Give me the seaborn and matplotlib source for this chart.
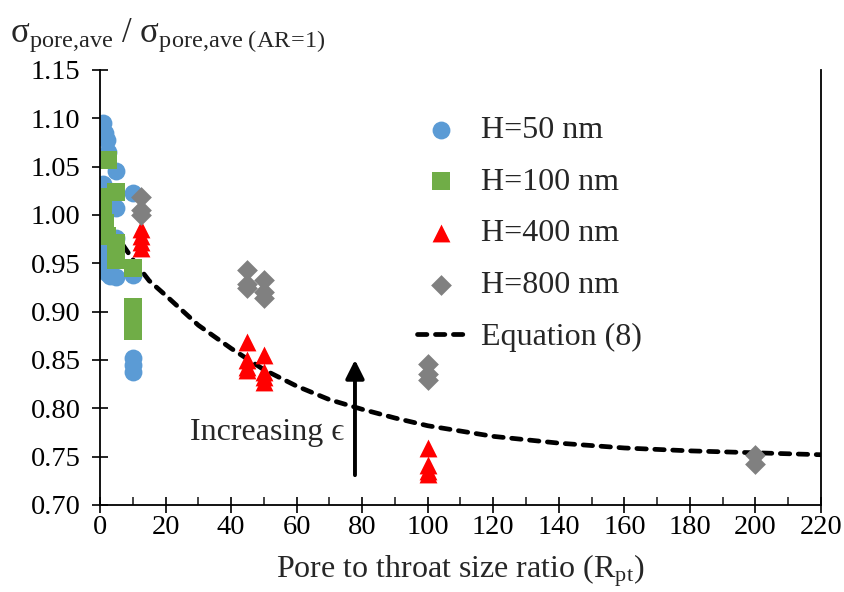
import matplotlib
matplotlib.use("Agg")
import matplotlib.pyplot as plt
from matplotlib.ticker import MultipleLocator, FormatStrFormatter
import seaborn as sns

# H = 50 nm (blue circles)
h50_x = [1, 1.5, 2, 2.5, 5, 1, 10, 5, 1, 5, 1, 1.5, 2, 3, 5, 10, 10, 10, 10]
h50_y = [1.095, 1.085, 1.078, 1.065, 1.046, 1.032, 1.023, 1.007, 0.963, 0.976,
         0.950, 0.945, 0.940, 0.937, 0.936, 0.938, 0.852, 0.845, 0.838]

# H = 100 nm (green squares)
h100_x = [1, 2.5, 5, 1, 1, 1.5, 2, 5, 5, 5, 10, 10, 10, 10]
h100_y = [1.057, 1.057, 1.024, 1.019, 1.005, 0.992, 0.978, 0.971, 0.961, 0.953,
          0.945, 0.905, 0.893, 0.880]

# H = 400 nm (red triangles)
h400_x = [12.5, 12.5, 12.5, 12.5, 45, 45, 45, 45, 50, 50, 50, 50, 100, 100, 100, 100]
h400_y = [0.985, 0.978, 0.972, 0.966, 0.869, 0.850, 0.843, 0.840,
          0.855, 0.838, 0.832, 0.827, 0.759, 0.741, 0.735, 0.732]

# H = 800 nm (gray diamonds)
h800_x = [12.5, 12.5, 12.5, 45, 45, 45, 50, 50, 50, 100, 100, 100, 200, 200]
h800_y = [1.019, 1.005, 1.000, 0.943, 0.929, 0.924, 0.933, 0.920, 0.914,
          0.846, 0.836, 0.829, 0.752, 0.742]

# Equation (8)
eq_x = [1, 5, 10, 15, 20, 30, 40, 50, 60, 70, 80, 90, 100, 120, 140, 160, 180, 200, 220]
eq_y = [1.000, 0.979, 0.954, 0.932, 0.917, 0.886, 0.862, 0.840, 0.823, 0.809,
        0.799, 0.790, 0.782, 0.771, 0.764, 0.759, 0.756, 0.754, 0.752]

x_ticks = list(range(0, 221, 20))
y_ticks = [0.70, 0.75, 0.80, 0.85, 0.90, 0.95, 1.00, 1.05, 1.10, 1.15]

sns.set_style("ticks")
plt.rcParams["font.family"] = ["Liberation Serif", "DejaVu Serif"]
plt.rcParams["mathtext.fontset"] = "custom"
plt.rcParams["mathtext.rm"] = "Liberation Serif"
plt.rcParams["mathtext.it"] = "Liberation Serif:italic"

fig = plt.figure(figsize=(8.44, 5.92), dpi=100)
ax = fig.add_axes([100 / 844, 1 - 505 / 592, 721 / 844, 435 / 592])

# dashed model curve under the markers
sns.lineplot(x=eq_x, y=eq_y, ax=ax, color="black", linewidth=3.4,
             label="Equation (8)", zorder=1)
line = ax.lines[-1]
line.set_linestyle((0, (2.0, 1.8)))
line.set_dash_capstyle("round")

sns.scatterplot(x=h50_x, y=h50_y, ax=ax, color="#5B9BD5", marker="o", s=165,
                linewidth=0, label="H=50 nm", zorder=2)
sns.scatterplot(x=h100_x, y=h100_y, ax=ax, color="#70AD47", marker="s", s=150,
                linewidth=0, label="H=100 nm", zorder=2)
sns.scatterplot(x=h400_x, y=h400_y, ax=ax, color="#FF0000", marker="^", s=165,
                linewidth=0, label="H=400 nm", zorder=2)
sns.scatterplot(x=h800_x, y=h800_y, ax=ax, color="#808080", marker="D", s=112,
                linewidth=0, label="H=800 nm", zorder=2)

ax.annotate("", xy=(77.8, 0.853), xytext=(77.8, 0.728),
            arrowprops=dict(arrowstyle="-|>", color="black", lw=2.8,
                            mutation_scale=28), zorder=3)
ax.text(27.5, 0.7755, "Increasing ϵ", fontsize=23, va="center", ha="left")

ax.set_xlim(0, 220)
ax.set_ylim(0.70, 1.15)
ax.set_xticks(x_ticks)
ax.set_yticks(y_ticks)
ax.xaxis.set_minor_locator(MultipleLocator(10))
ax.yaxis.set_major_formatter(FormatStrFormatter("%.2f"))
ax.tick_params(axis="both", which="major", direction="inout", length=12,
               width=1.2, labelsize=20.5, colors="black")
ax.tick_params(axis="y", pad=8)
ax.tick_params(axis="x", pad=1)
ax.tick_params(axis="x", which="minor", direction="in", length=6, width=1.2)
for side in ["left", "bottom", "right"]:
    ax.spines[side].set_linewidth(1.3)
    ax.spines[side].set_color("black")
ax.spines["top"].set_visible(False)

ax.set_xlabel("Pore to throat size ratio (R$_{\\mathrm{pt}}$)", fontsize=23, labelpad=9)
ax.set_ylabel("")
fig.text(0.012, 0.94,
         "σ$_{\\mathrm{pore{,}ave}}$ / σ$_{\\mathrm{pore{,}ave\\ (AR\\!=\\!1)}}$",
         fontsize=25, va="center", ha="left")

handles, labels = ax.get_legend_handles_labels()
order = [labels.index(l) for l in ["H=50 nm", "H=100 nm", "H=400 nm", "H=800 nm", "Equation (8)"]]
ax.legend([handles[i] for i in order], [labels[i] for i in order],
          loc="upper left", bbox_to_anchor=(0.44, 0.895), frameon=False,
          fontsize=23, labelspacing=0.7, handlelength=1.5, handletextpad=0.5,
          borderpad=0, borderaxespad=0)

fig.savefig("out.png", dpi=100)
plt.close(fig)
